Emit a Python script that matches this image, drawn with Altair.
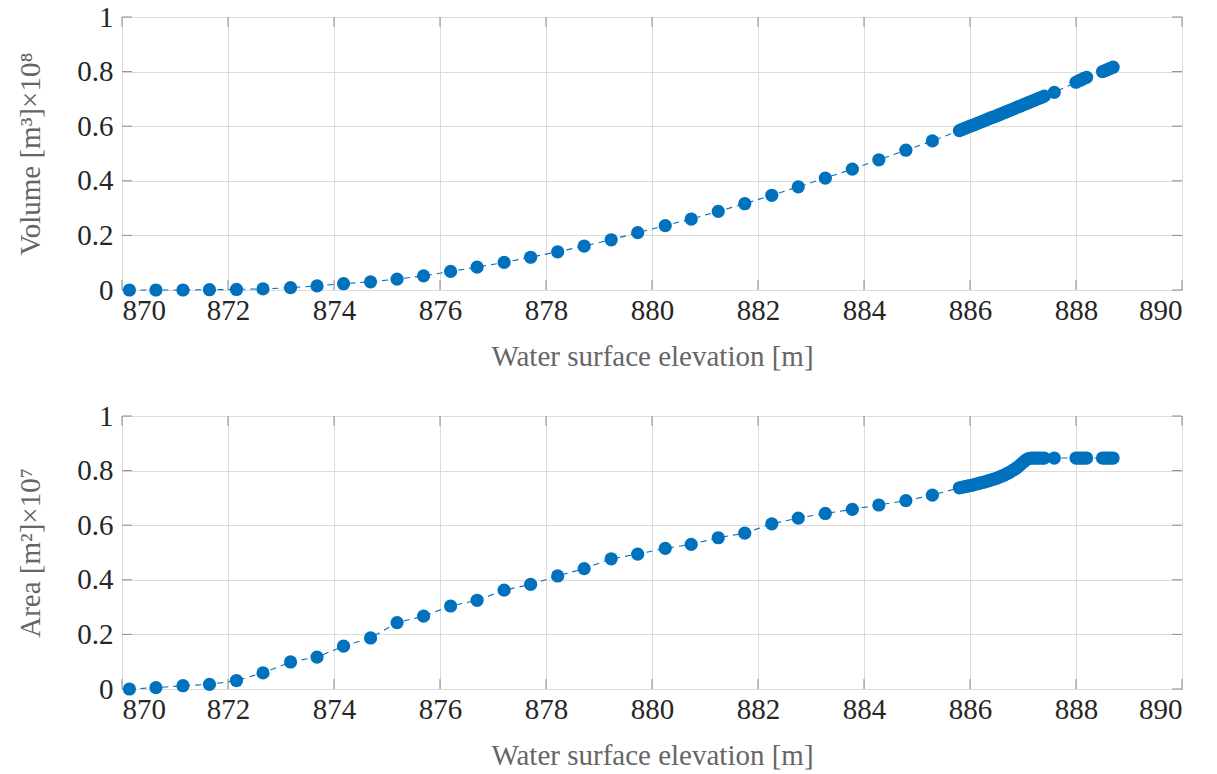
import altair as alt
import pandas as pd

# Water surface elevation [m]
elev = [870.14, 870.64, 871.15, 871.65, 872.16, 872.66, 873.18, 873.68, 874.18, 874.69,
        875.19, 875.69, 876.20, 876.70, 877.21, 877.71, 878.22, 878.72, 879.23, 879.73,
        880.25, 880.74, 881.25, 881.75, 882.26, 882.76, 883.27, 883.78, 884.28, 884.79,
        885.29,
        885.80, 885.85, 885.90, 885.95, 886.00, 886.05, 886.10, 886.15, 886.20, 886.25,
        886.30, 886.35, 886.40, 886.45, 886.50, 886.55, 886.60, 886.65, 886.70, 886.75,
        886.80, 886.85, 886.90, 886.95, 887.00, 887.05, 887.10, 887.15, 887.20, 887.25,
        887.30, 887.35, 887.40,
        887.59, 888.00, 888.05, 888.10, 888.15, 888.20, 888.50, 888.55, 888.60, 888.65,
        888.70]

# Volume [m^3] x 1e8
volume = [0.000, 0.000, 0.000, 0.001, 0.002, 0.004, 0.0085, 0.015, 0.023, 0.030,
          0.040, 0.052, 0.068, 0.084, 0.101, 0.120, 0.140, 0.161, 0.184, 0.210,
          0.236, 0.260, 0.288, 0.316, 0.347, 0.378, 0.410, 0.443, 0.477, 0.512,
          0.546,
          0.584, 0.588, 0.592, 0.596, 0.600, 0.603, 0.607, 0.611, 0.615, 0.619,
          0.623, 0.627, 0.631, 0.634, 0.638, 0.642, 0.646, 0.650, 0.654, 0.658,
          0.662, 0.666, 0.670, 0.674, 0.678, 0.682, 0.686, 0.690, 0.694, 0.698,
          0.702, 0.706, 0.710,
          0.724, 0.761, 0.766, 0.770, 0.775, 0.779, 0.800, 0.804, 0.808, 0.812,
          0.816]

# Area [m^2] x 1e7
area = [0.000, 0.005, 0.012, 0.017, 0.031, 0.059, 0.099, 0.117, 0.157, 0.187,
        0.243, 0.267, 0.304, 0.325, 0.362, 0.383, 0.414, 0.441, 0.477, 0.494,
        0.515, 0.530, 0.554, 0.571, 0.605, 0.626, 0.643, 0.658, 0.674, 0.690,
        0.710,
        0.737, 0.739, 0.741, 0.743, 0.745, 0.747, 0.750, 0.752, 0.755, 0.757,
        0.760, 0.763, 0.766, 0.769, 0.772, 0.776, 0.780, 0.784, 0.789, 0.794,
        0.800, 0.806, 0.813, 0.821, 0.830, 0.838, 0.844, 0.846, 0.846, 0.846,
        0.846, 0.846, 0.846,
        0.846, 0.846, 0.846, 0.846, 0.846, 0.846, 0.846, 0.846, 0.846, 0.846,
        0.846]

x_ticks = [870, 872, 874, 876, 878, 880, 882, 884, 886, 888, 890]
y_ticks = [0, 0.2, 0.4, 0.6, 0.8, 1]

BLUE = "#0072BD"
W, H = 1060, 273
FONT = "Liberation Serif"

df = pd.DataFrame({"elev": elev, "volume": volume, "area": area})
xt = pd.DataFrame({"t": x_ticks})
yt = pd.DataFrame({"t": y_ticks})

xscale = alt.Scale(domain=[870, 890], nice=False, zero=False)
yscale = alt.Scale(domain=[0, 1], nice=False)
label_expr = "datum.value == 0 ? '0' : datum.value == 1 ? '1' : format(datum.value, '.1f')"


def panel(field, ytitle):
    x = alt.X("elev:Q", scale=xscale,
              axis=alt.Axis(title="Water surface elevation [m]", values=x_ticks,
                            format="d", labelPadding=6, titlePadding=17))
    y = alt.Y(f"{field}:Q", scale=yscale,
              axis=alt.Axis(title=ytitle, values=y_ticks, labelExpr=label_expr,
                            labelPadding=9, titlePadding=31))
    line = alt.Chart(df).mark_line(color=BLUE, strokeWidth=1.1, strokeDash=[6, 5]).encode(
        x=x, y=y, order="elev:Q")
    pts = alt.Chart(df).mark_point(filled=True, shape="circle", size=175,
                                   color=BLUE, opacity=1).encode(x=x, y=y)
    tick_col = "#8c8c8c"
    tb = alt.Chart(xt).mark_rule(color=tick_col, strokeWidth=1).encode(
        x=alt.X("t:Q", scale=xscale), y=alt.value(H), y2=alt.value(H - 10))
    tt = alt.Chart(xt).mark_rule(color=tick_col, strokeWidth=1).encode(
        x=alt.X("t:Q", scale=xscale), y=alt.value(0), y2=alt.value(10))
    tl = alt.Chart(yt).mark_rule(color=tick_col, strokeWidth=1).encode(
        y=alt.Y("t:Q", scale=yscale), x=alt.value(0), x2=alt.value(10))
    tr = alt.Chart(yt).mark_rule(color=tick_col, strokeWidth=1).encode(
        y=alt.Y("t:Q", scale=yscale), x=alt.value(W), x2=alt.value(W - 10))
    return alt.layer(tb, tt, tl, tr, line, pts).properties(width=W, height=H)


top = panel("volume", "Volume [m³]×10⁸")
bottom = panel("area", "Area [m²]×10⁷")

chart = alt.vconcat(top, bottom, spacing=29).properties(
    padding={"left": 16, "top": 2, "right": 30, "bottom": 5},
    background="white"
).configure_view(
    stroke="#262626", strokeWidth=1
).configure_axis(
    domain=False, ticks=False, grid=True, gridColor="#dcdcdc", gridWidth=1,
    labelFont=FONT, labelFontSize=29, labelColor="#262626",
    titleFont=FONT, titleFontSize=29, titleColor="#666666", titleFontWeight="normal"
)

chart.save("out.html", embed_options={"renderer": "svg", "actions": False})
